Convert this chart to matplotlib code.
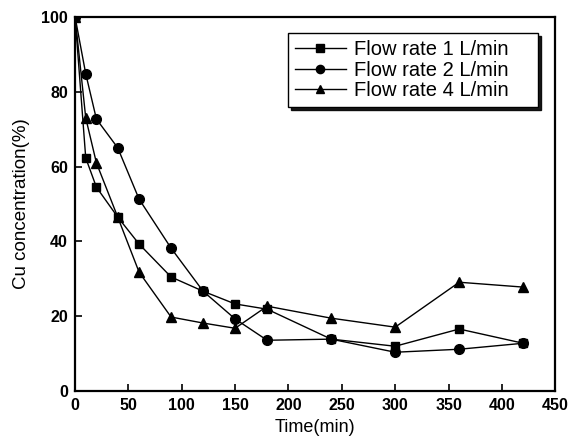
import matplotlib
matplotlib.use('Agg')
import matplotlib.pyplot as plt

plt.rcParams['font.family'] = ['Liberation Sans', 'DejaVu Sans']

# sampling times (min) and Cu concentration remaining (%)
time = [0, 10, 20, 40, 60, 90, 120, 150, 180, 240, 300, 360, 420]
flow_1 = [100, 62.3, 54.5, 46.5, 39.3, 30.5, 26.7, 23.3, 21.9, 13.9, 12.0, 16.6, 12.8]
flow_2 = [100, 84.8, 72.7, 65.0, 51.3, 38.2, 26.7, 19.3, 13.6, 13.9, 10.4, 11.2, 12.8]
flow_4 = [100, 73.0, 61.0, 46.5, 31.8, 19.8, 18.2, 16.8, 22.7, 19.5, 17.1, 29.1, 27.8]

fig = plt.figure(figsize=(5.73, 4.43), dpi=100)
ax = fig.add_axes([0.131, 0.117, 0.838, 0.845])

ax.plot(time, flow_1, 'k-', marker='s', markersize=6, linewidth=1, label='Flow rate 1 L/min')
ax.plot(time, flow_2, 'k-', marker='o', markersize=7, linewidth=1, label='Flow rate 2 L/min')
ax.plot(time, flow_4, 'k-', marker='^', markersize=7.5, linewidth=1, label='Flow rate 4 L/min')

ax.set_xlim(0, 450)
ax.set_ylim(0, 100)
ax.set_xticks(range(0, 451, 50))
ax.set_yticks(range(0, 101, 20))
ax.tick_params(direction='in', length=5, width=1.2, labelsize=11.5, pad=5)
for lab in ax.get_xticklabels() + ax.get_yticklabels():
    lab.set_fontweight('bold')
for s in ax.spines.values():
    s.set_linewidth(1.6)

ax.set_xlabel('Time(min)', fontsize=13, labelpad=4)
ax.set_ylabel('Cu concentration(%)', fontsize=13.5, labelpad=8)

# legend box stretched over a fixed span of the upper right corner
leg = ax.legend(loc='upper left', bbox_to_anchor=(0.444, 0.0, 0.521, 0.957),
                mode='expand', fontsize=14.5, markerscale=0.85,
                fancybox=False, shadow={'color': 'black', 'alpha': 0.9},
                framealpha=1, edgecolor='black',
                handlelength=2.5, handletextpad=0.4, borderpad=0.35,
                labelspacing=0.08, borderaxespad=0)
leg.get_frame().set_linewidth(1.0)

fig.savefig('out.png', dpi=100)
